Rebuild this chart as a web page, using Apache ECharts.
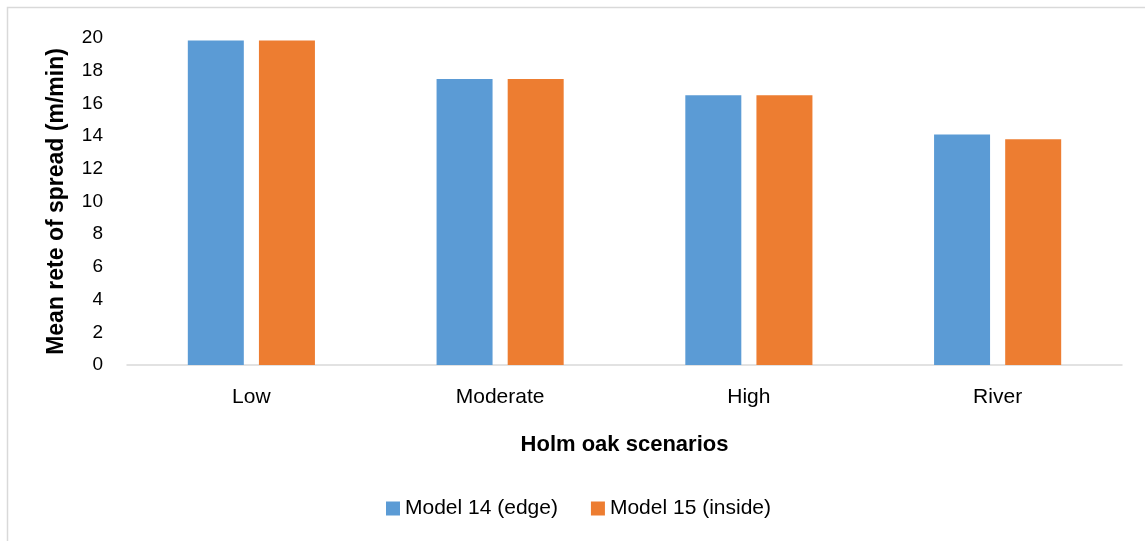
<!DOCTYPE html>
<html>
<head>
<meta charset="utf-8">
<script src="https://cdn.jsdelivr.net/npm/echarts@6/dist/echarts.min.js"></script>
<style>
  html, body { margin: 0; padding: 0; background: #fff; }
  #chart { width: 1145px; height: 541px; }
</style>
</head>
<body>
<div id="chart"></div>
<script>
// Scenario categories and mean rate of spread (m/min) per model
const categories = ['Low', 'Moderate', 'High', 'River'];
const model14Edge = [19.85, 17.5, 16.5, 14.1];
const model15Inside = [19.85, 17.5, 16.5, 13.8];
const seriesNames = ['Model 14 (edge)', 'Model 15 (inside)'];

const FONT = '"Liberation Sans", "Open Sans", sans-serif';
const chart = echarts.init(document.getElementById('chart'));

chart.setOption({
  animation: false,
  backgroundColor: '#ffffff',
  // chart-area frame (top and left edges)
  graphic: [
    {
      type: 'polyline',
      shape: { points: [[7.5, 541], [7.5, 7.5], [1145, 7.5]] },
      style: { fill: 'none', stroke: '#d9d9d9', lineWidth: 1.5 },
      silent: true,
      z: -1
    }
  ],
  grid: { left: 127, right: 23, top: 38, bottom: 176 },
  legend: {
    top: 493,
    left: 381,
    itemWidth: 14,
    itemHeight: 14,
    itemGap: 33,
    icon: 'rect',
    textStyle: { fontFamily: FONT, fontSize: 21, color: '#000' },
    data: seriesNames
  },
  xAxis: {
    type: 'category',
    data: categories,
    name: 'Holm oak scenarios',
    nameLocation: 'middle',
    nameGap: 69,
    nameTextStyle: { fontFamily: FONT, fontSize: 22, fontWeight: 'bold', color: '#000' },
    axisLine: { lineStyle: { color: '#d9d9d9', width: 1.5 } },
    axisTick: { show: false },
    axisLabel: { fontFamily: FONT, fontSize: 21, color: '#000', margin: 22 }
  },
  yAxis: {
    type: 'value',
    min: 0,
    max: 20,
    interval: 2,
    name: 'Mean rete of spread (m/min)',
    nameLocation: 'middle',
    nameGap: 59,
    nameTextStyle: { fontFamily: FONT, fontSize: 23, fontWeight: 'bold', color: '#000' },
    axisLine: { show: false },
    axisTick: { show: false },
    splitLine: { show: false },
    axisLabel: { fontFamily: FONT, fontSize: 19, color: '#000', margin: 24 }
  },
  series: [
    {
      name: seriesNames[0],
      type: 'bar',
      data: model14Edge,
      barWidth: 56,
      barGap: '27%',
      itemStyle: { color: '#5b9bd5' }
    },
    {
      name: seriesNames[1],
      type: 'bar',
      data: model15Inside,
      barWidth: 56,
      itemStyle: { color: '#ed7d31' }
    }
  ]
});
</script>
</body>
</html>
